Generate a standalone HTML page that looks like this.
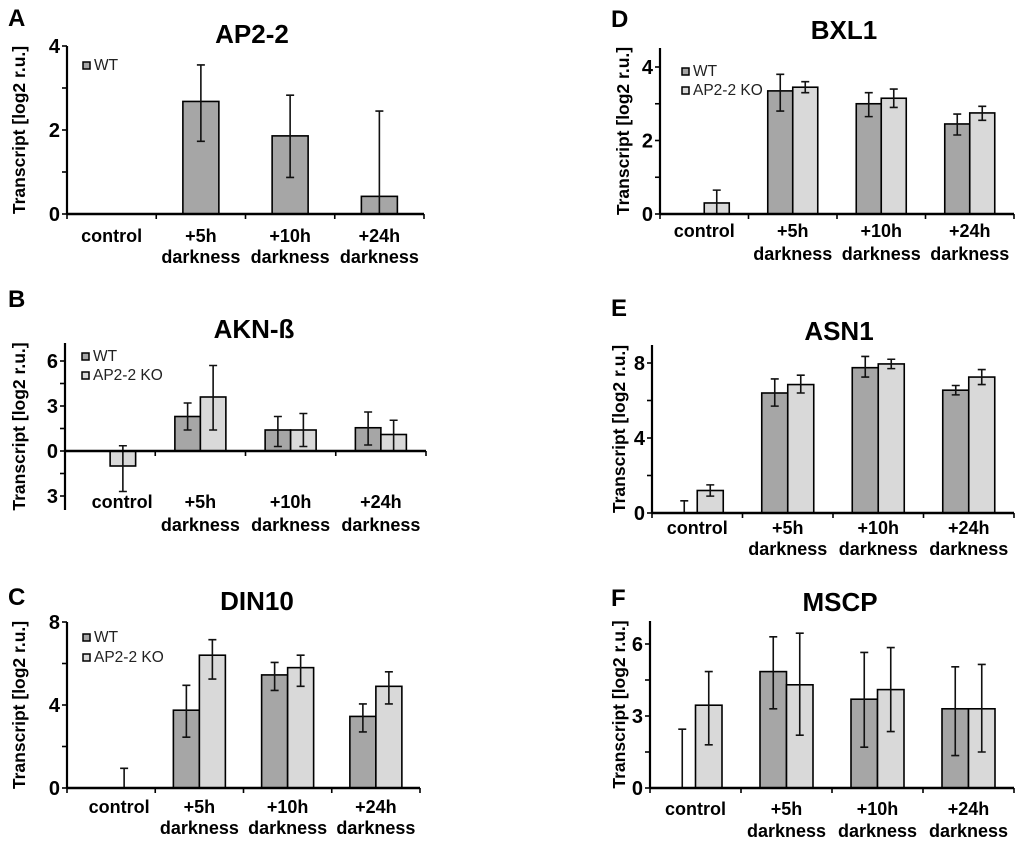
<!DOCTYPE html>
<html><head><meta charset="utf-8"><style>
html,body{margin:0;padding:0;background:#fff}
svg{display:block;font-family:"Liberation Sans",Arial,sans-serif}
</style></head><body>
<svg id="fig" width="1024" height="845" viewBox="0 0 1024 845" xmlns="http://www.w3.org/2000/svg"></svg>
<script>
// ---- data ----
const categories = ["control", "+5h", "+10h", "+24h"];
// A: AP2-2 (WT only)
const aWT   = [null, 2.68, 1.86, 0.42];
const aWTlo = [null, 1.73, 0.87, 0];
const aWThi = [null, 3.55, 2.83, 2.45];
// B: AKN-ß
const bWT   = [null, 2.3, 1.4, 1.55];
const bWTlo = [null, 1.4, 0.3, 0.4];
const bWThi = [null, 3.2, 2.3, 2.6];
const bKO   = [-1.0, 3.6, 1.4, 1.1];
const bKOlo = [-2.7, 1.4, 0.3, 0];
const bKOhi = [0.35, 5.7, 2.5, 2.05];
// C: DIN10
const cWT   = [null, 3.75, 5.45, 3.45];
const cWTlo = [null, 2.45, 4.7, 2.7];
const cWThi = [null, 4.95, 6.05, 4.05];
const cKO   = [0, 6.4, 5.8, 4.9];
const cKOlo = [0, 5.25, 4.9, 4.05];
const cKOhi = [0.95, 7.15, 6.4, 5.6];
// D: BXL1
const dWT   = [null, 3.35, 3.0, 2.45];
const dWTlo = [null, 2.8, 2.65, 2.15];
const dWThi = [null, 3.8, 3.3, 2.72];
const dKO   = [0.3, 3.45, 3.15, 2.75];
const dKOlo = [0, 3.3, 2.9, 2.55];
const dKOhi = [0.65, 3.6, 3.4, 2.93];
// E: ASN1
const eWT   = [0, 6.4, 7.75, 6.55];
const eWTlo = [0, 5.7, 7.25, 6.3];
const eWThi = [0.65, 7.15, 8.35, 6.8];
const eKO   = [1.2, 6.85, 7.95, 7.25];
const eKOlo = [0.9, 6.4, 7.7, 6.85];
const eKOhi = [1.5, 7.35, 8.2, 7.65];
// F: MSCP
const fWT   = [0, 4.85, 3.7, 3.3];
const fWTlo = [0, 3.3, 1.7, 1.35];
const fWThi = [2.45, 6.3, 5.65, 5.05];
const fKO   = [3.45, 4.3, 4.1, 3.3];
const fKOlo = [1.8, 2.2, 2.35, 1.5];
const fKOhi = [4.85, 6.45, 5.85, 5.15];
// tick values/labels
const aTicks = [0,1,2,3,4], aTickLabels = ["0","","2","","4"];
const bTicks = [-3,-1.5,0,1.5,3,4.5,6], bTickLabels = ["3","","0","","3","","6"];
const cTicks = [0,2,4,6,8], cTickLabels = ["0","","4","","8"];
const dTicks = [0,1,2,3,4], dTickLabels = ["0","","2","","4"];
const eTicks = [0,2,4,6,8], eTickLabels = ["0","","4","","8"];
const fTicks = [0,1.5,3,4.5,6], fTickLabels = ["0","","3","","6"];

const NS = "http://www.w3.org/2000/svg";
const svg = document.getElementById("fig");
function mk(tag, attrs, parent, text){
  const e = document.createElementNS(NS, tag);
  for (const k in attrs) e.setAttribute(k, attrs[k]);
  if (text !== undefined) e.textContent = text;
  (parent||svg).appendChild(e);
  return e;
}
const WTC = "#a6a6a6", KOC = "#d9d9d9";

function panel(cfg){
  const g = mk("g", {});
  
  
  const y = v => cfg.y0 - v * cfg.ppu;
  const gw = (cfg.xEnd - cfg.x0) / 4;
  const gc = i => cfg.x0 + gw * (i + 0.5);
  const L = mk("text", {x: cfg.lx, y: cfg.ly, "font-size": 24, "font-weight": "bold"}, g, cfg.letter);
  
  
  const T = mk("text", {x: cfg.tx, y: cfg.ty, "font-size": 26, "font-weight": "bold", "text-anchor": "middle"}, g, cfg.title);
  
  
  const ymid = (cfg.yTop + cfg.yBot) / 2;
  const YT = mk("text", {x: 0, y: 0, "font-size": 17.5, "font-weight": "bold", "text-anchor": "middle",
    transform: `translate(${cfg.ytx},${ymid}) rotate(-90)`}, g, "Transcript [log2 r.u.]");
  
  
  function bar(i, vals, lo, hi, color, off, w, name){
    const v = vals[i];
    if (v === null) return;
    const x = gc(i) + off;
    if (v !== 0) {
      const r = mk("rect", {x: x, y: Math.min(y(v), y(0)), width: w, height: Math.abs(y(v) - y(0)),
        fill: color, stroke: "#000", "stroke-width": 1.6}, g);
      
      
    }
    const cx = x + w / 2;
    const e = mk("path", {d: `M${cx},${y(lo[i])}V${y(hi[i])}M${cx-4},${y(hi[i])}h8` + (lo[i] !== 0 ? `M${cx-4},${y(lo[i])}h8` : ""),
      stroke: "#111", "stroke-width": 1.6, fill: "none"}, g);
    
    
  }
  for (let i = 0; i < 4; i++) {
    if (cfg.ko) {
      bar(i, cfg.wt, cfg.wtlo, cfg.wthi, WTC, -cfg.bw, cfg.bw, 'wt');
      bar(i, cfg.ko, cfg.kolo, cfg.kohi, KOC, 0, cfg.bw, 'ko');
    } else {
      bar(i, cfg.wt, cfg.wtlo, cfg.wthi, WTC, -cfg.bw / 2, cfg.bw, 'wt');
    }
  }
  const ax = mk("path", {d: `M${cfg.x0},${cfg.yTop}V${cfg.yBot}`, stroke: "#000", "stroke-width": 2.2, fill: "none"}, g);
  
  
  const xa = mk("path", {d: `M${cfg.x0},${cfg.y0}H${cfg.xEnd}`, stroke: "#000", "stroke-width": 2.4, fill: "none"}, g);
  
  
  cfg.ticks.forEach((t, k) => {
    const tk = mk("path", {d: `M${cfg.x0-5},${y(t)}H${cfg.x0}`, stroke: "#000", "stroke-width": 1.6}, g);
    
    
    if (cfg.tickLabels[k]) {
      const tl = mk("text", {x: cfg.x0 - 7, y: y(t) + 7, "font-size": 20, "font-weight": "bold", "text-anchor": "end"}, g, cfg.tickLabels[k]);
      
      
    }
  });
  for (let i = 0; i <= 4; i++) {
    const xt = mk("path", {d: `M${cfg.x0 + gw*i},${cfg.y0}v5`, stroke: "#000", "stroke-width": 1.6}, g);
    
    
  }
  categories.forEach((c, i) => {
    const cl = mk("text", {x: gc(i) + (i === 0 ? cfg.ctrlOff : 0), y: cfg.lb1, "font-size": 18, "font-weight": "bold", "text-anchor": "middle"}, g, c);
    
    
    if (i > 0) {
      const dl = mk("text", {x: gc(i), y: cfg.lb2, "font-size": 18, "font-weight": "bold", "text-anchor": "middle"}, g, "darkness");
      
      
    }
  });
  if (cfg.leg) {
    const entries = cfg.ko ? [["WT", WTC], ["AP2-2 KO", KOC]] : [["WT", WTC]];
    entries.forEach((en, k) => {
      const yy = cfg.leg[1] + k * cfg.legGap;
      const sw = mk("rect", {x: cfg.leg[0], y: yy - 8, width: 7, height: 7, fill: en[1], stroke: "#000", "stroke-width": 1.5}, g);
      
      
      const lt = mk("text", {x: cfg.leg[0] + 11, y: yy, "font-size": 15.5, fill: "#222"}, g, en[0]);
      
      
    });
  }
}

panel({letter:"A", lx:8, ly:26, title:"AP2-2", tx:252, ty:43, ytx:25,
  x0:67, xEnd:424, y0:214, ppu:42, yTop:46, yBot:214, bw:36,
  ticks:aTicks, tickLabels:aTickLabels, wt:aWT, wtlo:aWTlo, wthi:aWThi,
  lb1:242, lb2:263, ctrlOff:0, leg:[83,70], legGap:0});
panel({letter:"B", lx:8, ly:307, title:"AKN-ß", tx:254, ty:338, ytx:25,
  x0:65, xEnd:426, y0:451, ppu:15, yTop:343, yBot:510, bw:25.5,
  ticks:bTicks, tickLabels:bTickLabels, wt:bWT, wtlo:bWTlo, wthi:bWThi, ko:bKO, kolo:bKOlo, kohi:bKOhi,
  lb1:508, lb2:531, ctrlOff:12, leg:[82,361], legGap:19});
panel({letter:"C", lx:8, ly:605, title:"DIN10", tx:257, ty:610, ytx:25,
  x0:67, xEnd:420, y0:788, ppu:20.75, yTop:622, yBot:788, bw:26,
  ticks:cTicks, tickLabels:cTickLabels, wt:cWT, wtlo:cWTlo, wthi:cWThi, ko:cKO, kolo:cKOlo, kohi:cKOhi,
  lb1:813, lb2:834, ctrlOff:8, leg:[83,642], legGap:20});
panel({letter:"D", lx:611, ly:27, title:"BXL1", tx:844, ty:39, ytx:629,
  x0:660, xEnd:1014, y0:214, ppu:36.75, yTop:48, yBot:214, bw:25,
  ticks:dTicks, tickLabels:dTickLabels, wt:dWT, wtlo:dWTlo, wthi:dWThi, ko:dKO, kolo:dKOlo, kohi:dKOhi,
  lb1:237, lb2:260, ctrlOff:0, leg:[682,76], legGap:19});
panel({letter:"E", lx:611, ly:316, title:"ASN1", tx:839, ty:340, ytx:625,
  x0:652, xEnd:1014, y0:513, ppu:18.75, yTop:345, yBot:513, bw:26,
  ticks:eTicks, tickLabels:eTickLabels, wt:eWT, wtlo:eWTlo, wthi:eWThi, ko:eKO, kolo:eKOlo, kohi:eKOhi,
  lb1:534, lb2:555, ctrlOff:0, leg:null});
panel({letter:"F", lx:611, ly:606, title:"MSCP", tx:840, ty:611, ytx:625,
  x0:650, xEnd:1014, y0:788, ppu:24, yTop:621, yBot:788, bw:26.5,
  ticks:fTicks, tickLabels:fTickLabels, wt:fWT, wtlo:fWTlo, wthi:fWThi, ko:fKO, kolo:fKOlo, kohi:fKOhi,
  lb1:815, lb2:837, ctrlOff:0, leg:null});
</script>
</body></html>
